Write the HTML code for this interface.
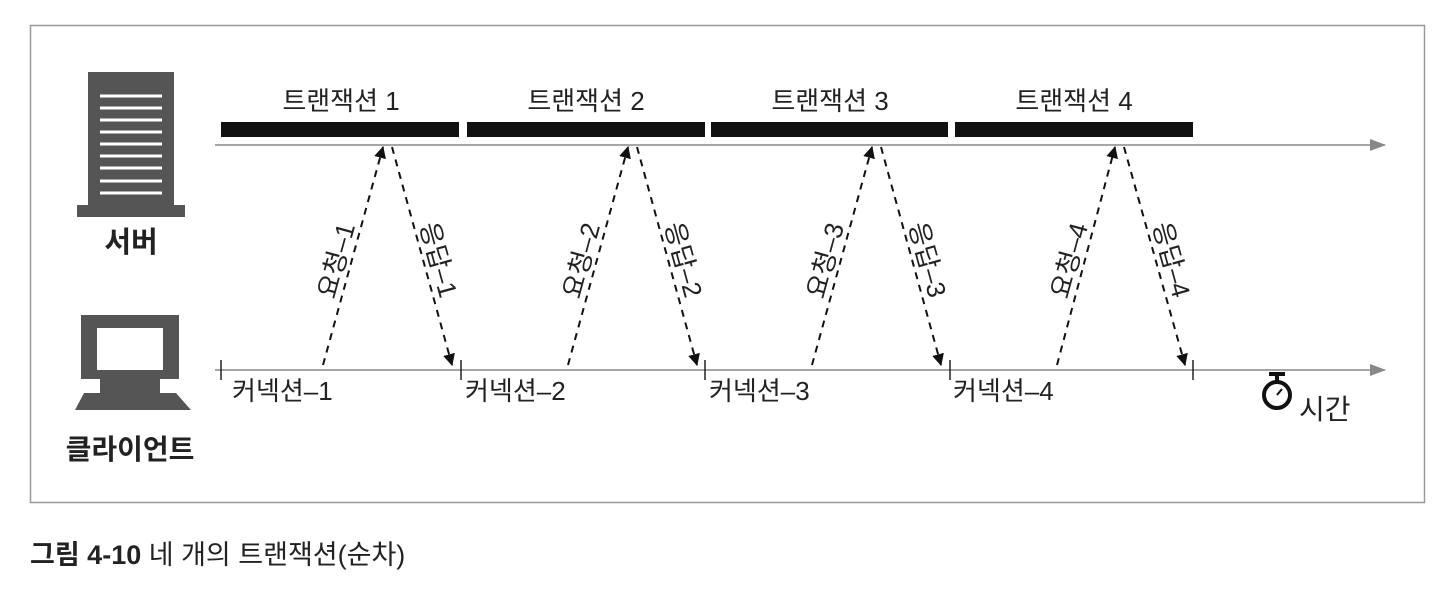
<!DOCTYPE html>
<html><head><meta charset="utf-8"><style>
body{margin:0;background:#fff;}
svg{display:block;font-family:"Liberation Sans","Noto Sans CJK KR",sans-serif;}
</style></head><body>
<svg width="1446" height="598" viewBox="0 0 1446 598" xmlns="http://www.w3.org/2000/svg">
<defs>
<marker id="ah" markerWidth="12" markerHeight="12" refX="11" refY="6" orient="auto" markerUnits="userSpaceOnUse"><path d="M0,0 L12,6 L0,12 z" fill="#111"/></marker>
<marker id="ta" markerWidth="16" markerHeight="12" refX="15" refY="6" orient="auto" markerUnits="userSpaceOnUse"><path d="M0,0 L16,6 L0,12 z" fill="#888"/></marker>
</defs>
<rect x="30.5" y="25.5" width="1394" height="477" fill="#fff" stroke="#999" stroke-width="1.5"/>
<!-- server -->
<rect x="88" y="72" width="86" height="134" fill="#555"/>
<rect x="77" y="205" width="108" height="12" fill="#555"/>
<g stroke="#fff" stroke-width="3">
<line x1="100" y1="96" x2="162" y2="96"/><line x1="100" y1="108" x2="162" y2="108"/>
<line x1="100" y1="120" x2="162" y2="120"/><line x1="100" y1="132" x2="162" y2="132"/>
<line x1="100" y1="144" x2="162" y2="144"/><line x1="100" y1="156" x2="162" y2="156"/>
<line x1="100" y1="168" x2="162" y2="168"/><line x1="100" y1="181" x2="162" y2="181"/>
<line x1="100" y1="193" x2="162" y2="193"/>
</g>
<text x="131" y="252" font-size="29" font-weight="bold" text-anchor="middle" fill="#222">서버</text>
<!-- client -->
<rect x="81" y="315" width="98" height="64" fill="#555"/>
<rect x="97" y="328" width="66" height="42" fill="#fff"/>
<rect x="100" y="378" width="60" height="16" fill="#555"/>
<path d="M84,393 L176,393 L191,410 L75,410 z" fill="#555"/>
<text x="130" y="459" font-size="28" font-weight="bold" text-anchor="middle" fill="#222">클라이언트</text>
<!-- time lines -->
<line x1="215" y1="145" x2="1385" y2="145" stroke="#888" stroke-width="1.5" marker-end="url(#ta)"/>
<line x1="215" y1="370" x2="1385" y2="370" stroke="#888" stroke-width="1.5" marker-end="url(#ta)"/>
<!-- bars -->
<g fill="#111">
<rect x="221" y="122" width="238" height="15"/><rect x="467" y="122" width="238" height="15"/>
<rect x="711" y="122" width="237" height="15"/><rect x="955" y="122" width="238" height="15"/>
</g>
<g font-size="26" fill="#222" text-anchor="middle">
<text x="341" y="110">트랜잭션 1</text><text x="586" y="110">트랜잭션 2</text>
<text x="830" y="110">트랜잭션 3</text><text x="1074" y="110">트랜잭션 4</text>
</g>
<!-- ticks -->
<g stroke="#222" stroke-width="1.5">
<line x1="221" y1="360" x2="221" y2="380"/><line x1="461" y1="360" x2="461" y2="380"/>
<line x1="705" y1="360" x2="705" y2="380"/><line x1="950" y1="360" x2="950" y2="380"/>
<line x1="1193" y1="360" x2="1193" y2="380"/>
</g>
<g font-size="26" fill="#222">
<text x="232" y="400">커넥션–1</text><text x="465" y="400">커넥션–2</text>
<text x="709" y="400">커넥션–3</text><text x="953" y="400">커넥션–4</text>
</g>
<!-- arrows -->
<g stroke="#111" stroke-width="2" stroke-dasharray="7,6" fill="none">
<line x1="323" y1="365" x2="383" y2="147" marker-end="url(#ah)"/>
<line x1="392" y1="147" x2="452" y2="365" marker-end="url(#ah)"/>
<line x1="568" y1="365" x2="628" y2="147" marker-end="url(#ah)"/>
<line x1="637" y1="147" x2="697" y2="365" marker-end="url(#ah)"/>
<line x1="812" y1="365" x2="872" y2="147" marker-end="url(#ah)"/>
<line x1="881" y1="147" x2="941" y2="365" marker-end="url(#ah)"/>
<line x1="1057" y1="365" x2="1115" y2="147" marker-end="url(#ah)"/>
<line x1="1124" y1="147" x2="1185" y2="365" marker-end="url(#ah)"/>
</g>
<g font-size="26" fill="#222" text-anchor="middle">
<text transform="translate(345,263) rotate(-74.6)">요청–1</text>
<text transform="translate(430,262) rotate(74.6)">응답–1</text>
<text transform="translate(590,263) rotate(-74.6)">요청–2</text>
<text transform="translate(675,262) rotate(74.6)">응답–2</text>
<text transform="translate(834,263) rotate(-74.6)">요청–3</text>
<text transform="translate(919,262) rotate(74.6)">응답–3</text>
<text transform="translate(1078,263) rotate(-74.6)">요청–4</text>
<text transform="translate(1163,262) rotate(74.6)">응답–4</text>
</g>
<!-- stopwatch -->
<rect x="1269" y="372" width="16" height="4" fill="#111"/>
<rect x="1275" y="375" width="4" height="6" fill="#111"/>
<circle cx="1277" cy="395" r="13" fill="none" stroke="#111" stroke-width="4"/>
<line x1="1277" y1="395" x2="1282" y2="389" stroke="#111" stroke-width="2"/>
<text x="1299" y="419" font-size="28" fill="#222">시간</text>
<!-- caption -->
<text x="30" y="564" font-size="27" fill="#222"><tspan font-weight="bold">그림 4-10</tspan> 네 개의 트랜잭션(순차)</text>
</svg>
</body></html>
